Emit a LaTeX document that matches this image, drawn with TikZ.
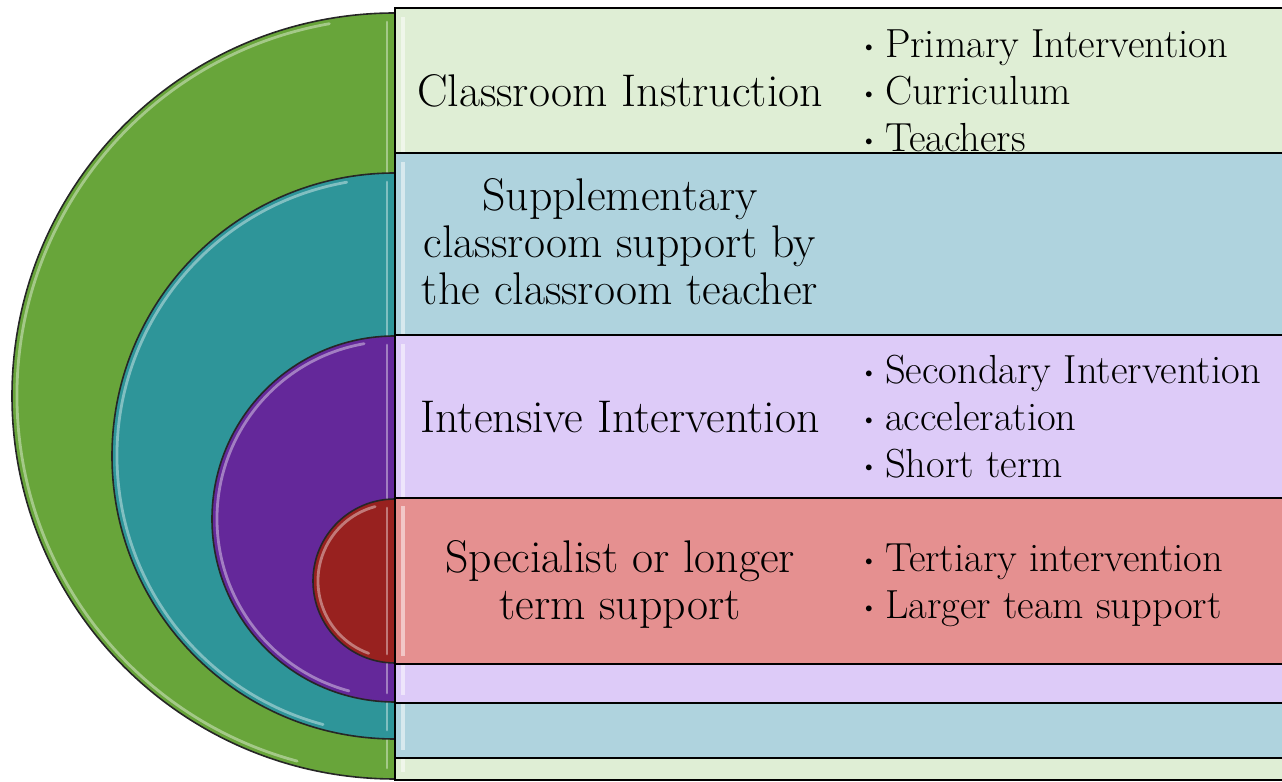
\documentclass[tikz,border=0pt]{standalone}
\definecolor{ringgreen}{HTML}{68A53A}
\definecolor{bandgreen}{HTML}{DFEED5}
\definecolor{ringteal}{HTML}{2E9599}
\definecolor{bandteal}{HTML}{AFD3DE}
\definecolor{ringpurple}{HTML}{64289A}
\definecolor{bandpurple}{HTML}{DDCBF8}
\definecolor{ringred}{HTML}{98211F}
\definecolor{bandred}{HTML}{E59090}
\newcommand{\dotitem}{\makebox[12pt][l]{\raisebox{0.28ex}{\normalsize\textbullet}}}

\begin{document}
\begin{tikzpicture}[
    x=0.5pt,
    y=0.5pt,
    text=black,
    ring/.style={draw=black!85, line width=0.8pt},
    band/.style={draw=black, line width=1.1pt},
    gloss/.style={draw=white, line width=1.4pt, opacity=0.4, line cap=round},
    bevel/.style={draw=white, line width=2.2pt, opacity=0.5},
    heading/.style={font=\fontsize{22.9}{23.5}\selectfont, align=center},
    points/.style={font=\fontsize{20.3}{23.5}\selectfont, align=left, anchor=west}
]
\clip (0,0) rectangle (1282,782);

% Outer level: classroom instruction.
\draw[ring, fill=ringgreen] (395,769) arc[start angle=90, end angle=270, radius=383] -- cycle;
\draw[gloss] (395,386) ++(100:378) arc[start angle=100, end angle=255, radius=378];
\draw[gloss] (387,760) -- (387,14);
\draw[band, fill=bandgreen] (395,2) rectangle (1295,774);
\draw[bevel] (403,765) -- (403,10);

% Second level: supplementary support.
\draw[ring, fill=ringteal] (395,609) arc[start angle=90, end angle=270, radius=283] -- cycle;
\draw[gloss] (395,326) ++(100:278) arc[start angle=100, end angle=255, radius=278];
\draw[gloss] (387,600) -- (387,52);
\draw[band, fill=bandteal] (395,24) rectangle (1295,629);
\draw[bevel] (403,620) -- (403,32);

% Third level: intensive intervention.
\draw[ring, fill=ringpurple] (395,446) arc[start angle=90, end angle=270, radius=183] -- cycle;
\draw[gloss] (395,263) ++(100:178) arc[start angle=100, end angle=255, radius=178];
\draw[gloss] (387,437) -- (387,89);
\draw[band, fill=bandpurple] (395,79) rectangle (1295,447);
\draw[bevel] (403,438) -- (403,87);

% Innermost level: specialist support.
\draw[ring, fill=ringred] (395,283) arc[start angle=90, end angle=270, radius=82] -- cycle;
\draw[gloss] (395,201) ++(105:77) arc[start angle=105, end angle=250, radius=77];
\draw[gloss] (387,274) -- (387,128);
\draw[band, fill=bandred] (395,118) rectangle (1295,284);
\draw[bevel] (403,276) -- (403,126);

% Level titles and their points.
\node[heading] (classroom) at (620,691) {Classroom Instruction};
\node[points] (classroompts) at (854,691) {%
    \dotitem Primary Intervention\\
    \dotitem Curriculum\\
    \dotitem Teachers};

\node[heading] (supplement) at (620,540) {%
    Supplementary\\classroom support by\\the classroom teacher};

\node[heading] (intensive) at (620,365) {Intensive Intervention};
\node[points] (intensivepts) at (854,365) {%
    \dotitem Secondary Intervention\\
    \dotitem acceleration\\
    \dotitem Short term};

\node[heading] (specialist) at (620,198) {Specialist or longer\\term support};
\node[points] (specialistpts) at (854,197) {%
    \dotitem Tertiary intervention\\
    \dotitem Larger team support};

\end{tikzpicture}
\end{document}
